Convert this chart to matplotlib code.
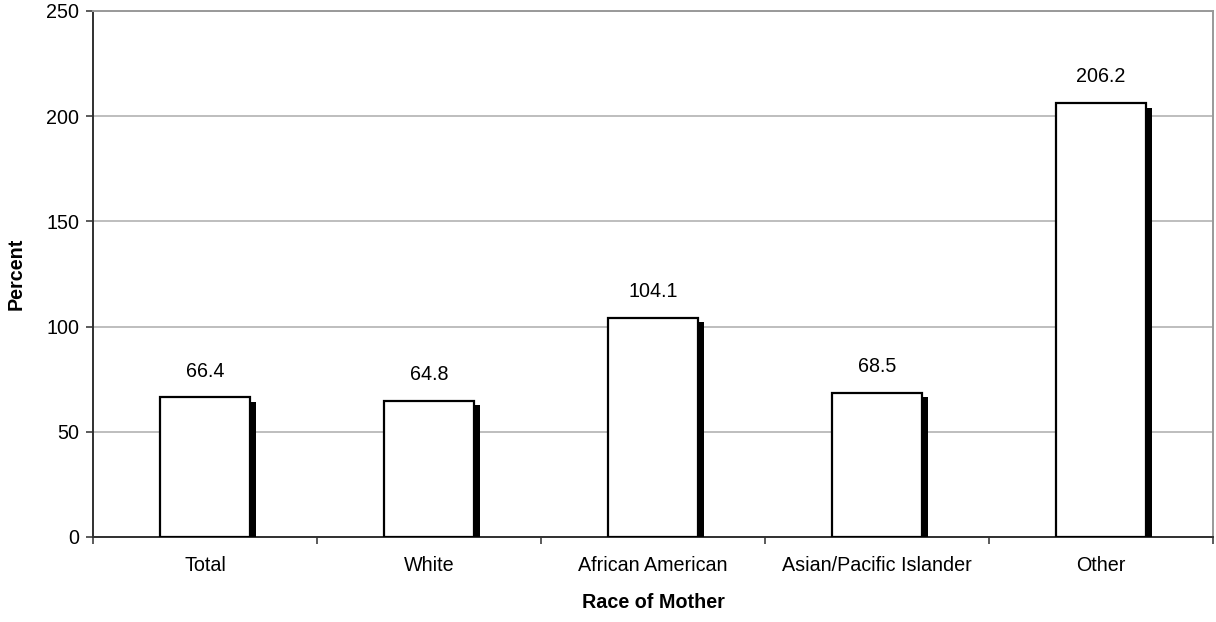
import matplotlib
matplotlib.use("Agg")
import matplotlib.pyplot as plt
import matplotlib.patheffects as pe
import numpy as np

categories = ["Total", "White", "African American", "Asian/Pacific Islander", "Other"]
values = [66.4, 64.8, 104.1, 68.5, 206.2]
yticks = [0, 50, 100, 150, 200, 250]

plt.rcParams['font.family'] = ['Liberation Sans', 'DejaVu Sans']
FS = 14.2

fig = plt.figure(figsize=(12.16, 6.22), dpi=100)
ax = fig.add_axes([93/1216, 85/622, 1120/1216, 526/622])

x = np.arange(len(categories))
bars = ax.bar(x, values, width=0.405, color='white', edgecolor='black', linewidth=1.6, zorder=3)
for b in bars:
    b.set_path_effects([pe.SimplePatchShadow(offset=(4.3, -3.2), shadow_rgbFace='black', alpha=1.0),
                        pe.Normal()])

for xi, v in zip(x, values):
    ax.annotate(f"{v:.1f}", (xi, v), xytext=(0, 12), textcoords='offset points',
                ha='center', va='bottom', fontsize=FS)

ax.set_xlim(-0.5, len(categories) - 0.5)
ax.set_ylim(0, 250)
ax.set_yticks(yticks)
ax.set_yticklabels([str(t) for t in yticks], fontsize=FS)
ax.yaxis.grid(True, color='#b3b3b3', linewidth=1.2, zorder=0)
ax.set_axisbelow(True)

ax.set_xticks(np.arange(len(categories) + 1) - 0.5, minor=False)
ax.set_xticklabels([])
ax.set_xticks(x, minor=True)
ax.set_xticklabels(categories, minor=True, fontsize=FS)
ax.tick_params(axis='x', which='minor', length=0, pad=14)
ax.tick_params(axis='x', which='major', length=5, width=1.2, color='#404040')
ax.tick_params(axis='y', length=5, width=1.2, color='#404040', pad=5)

for s in ['left', 'bottom']:
    ax.spines[s].set_color('#303030')
    ax.spines[s].set_linewidth(1.4)
ax.spines['right'].set_color('#999999')
ax.spines['right'].set_linewidth(1.4)
ax.spines['top'].set_color('#999999')
ax.spines['top'].set_linewidth(1.4)

ax.set_ylabel("Percent", fontsize=FS, fontweight='bold', labelpad=15)
ax.set_xlabel("Race of Mother", fontsize=FS, fontweight='bold', labelpad=13)

fig.savefig("out.png", dpi=100)
